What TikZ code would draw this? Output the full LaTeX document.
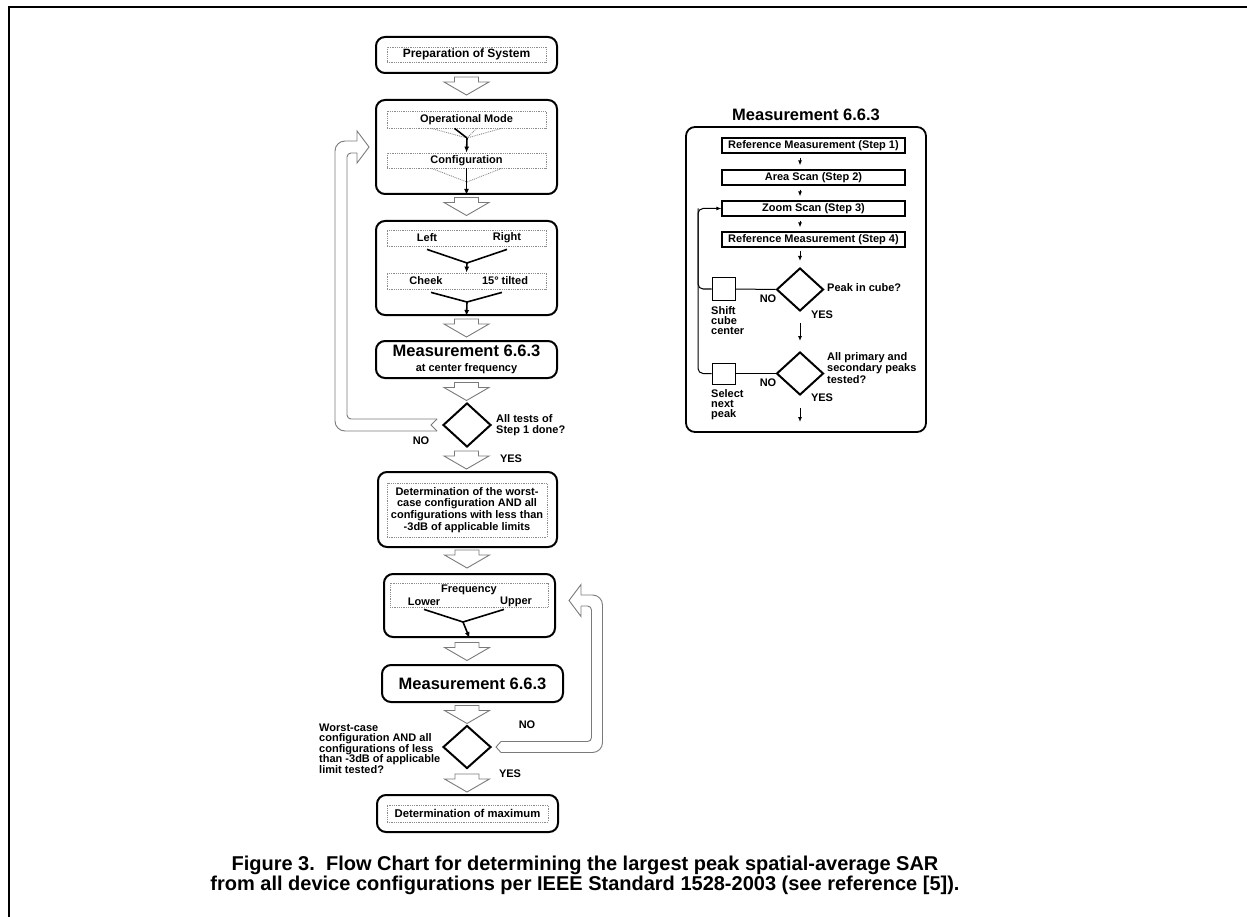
\documentclass[tikz,border=0pt]{standalone}
\usepackage{fontspec}
\setmainfont{Liberation Sans}
\usetikzlibrary{arrows.meta,shapes.geometric,calc}
\definecolor{sgray}{HTML}{7A7A7A}
\definecolor{sdot}{HTML}{8C8C8C}

\begin{document}
\begin{tikzpicture}[x=1pt,y=-1pt,every node/.style={font=\fontsize{11}{10.5}\selectfont\bfseries,inner sep=0pt},rbox/.style={draw,line width=2pt,rounded corners=9pt},dbox/.style={draw=sdot,densely dotted,line width=.8pt},sbox/.style={draw,line width=1.2pt,minimum width=183,minimum height=15},dia/.style={draw,diamond,line width=2pt,minimum width=48,minimum height=44},lnk/.style={line width=1.6pt},fan/.style={sdot,densely dotted,line width=.9pt},arr/.style={-{Latex[length=6pt,width=5pt]},line width=1.6pt},tarr/.style={-{Latex[length=5pt,width=4pt]},line width=1pt},loop/.style={sgray,line width=.9pt},big/.style={font=\fontsize{16.5}{16.5}\selectfont\bfseries},hollow/.pic={\draw[sgray,line width=.9pt,fill=white] (-12,-9)--(12,-9)--(12,-4)--(22.5,-4)--(0,9)--(-22.5,-4)--(-12,-4)--cycle;}]
\useasboundingbox (0,0) rectangle (1247,917);
\draw[line width=2.5pt] (9,917) -- (9,7) -- (1247,7);

\node[dbox,minimum width=159,minimum height=15,font=\fontsize{12}{12}\selectfont\bfseries] (prepT) at (466.5,54.5) {Preparation of System};
\node[rbox,minimum width=181,minimum height=36] (prep) at (466.5,55) {};
\pic at (466.5,86) {hollow};

\node[rbox,minimum width=181,minimum height=94] (mode) at (466.5,147) {};
\node[dbox,minimum width=159,minimum height=17] (modeT) at (466.5,119.5) {Operational Mode};
\node[dbox,minimum width=159,minimum height=15] (confT) at (466.5,160.5) {Configuration};
\coordinate (mj) at (467,138);
\coordinate (cj) at (467,182);
\draw[fan] ($(modeT.south)+(-35,0)$) -- (mj) -- ($(modeT.south)+(35,0)$) ($(modeT.south)+(10,0)$) -- (mj);
\draw[lnk] ($(modeT.south)+(-12,0)$) -- (mj);
\draw[arr] (mj) -- (confT.north);
\draw[fan] ($(confT.south)+(-35,0)$) -- (cj) -- ($(confT.south)+(35,0)$);
\draw[arr] (confT.south) -- (mode.south);
\pic at (466.5,206.5) {hollow};

\node[rbox,minimum width=181,minimum height=94] (pos) at (466.5,268) {};
\node[dbox,minimum width=159,minimum height=16] (sideT) at (466.5,238) {};
\node (tLeft) at (427,238) {Left};
\node (tRight) at (507,238) {Right};
\node[dbox,minimum width=159,minimum height=16] (tiltT) at (466.5,281) {};
\node (tCheek) at (426,281) {Cheek};
\node (tTilt) at (505,281) {15° tilted};
\coordinate (sj) at (467,263);
\coordinate (tj) at (467,302);
\draw[lnk] ([yshift=-3pt]sideT.south -| tLeft) -- (sj) -- ([yshift=-3pt]sideT.south -| tRight);
\draw[arr] (sj) -- (tiltT.north);
\draw[lnk] ([xshift=5pt,yshift=-3pt]tiltT.south -| tCheek) -- (tj) -- ([xshift=-3pt,yshift=-3pt]tiltT.south -| tTilt);
\draw[arr] (tj) -- (pos.south);
\pic at (466.5,328) {hollow};

\node[rbox,minimum width=181,minimum height=37,align=center] (meas) at (466.5,359.5) {{\fontsize{16.5}{16.5}\selectfont Measurement 6.6.3}\\[4pt]at center frequency};
\pic at (466.5,391.5) {hollow};
\node[dia] (chk1) at (467,425) {};
\node[anchor=west,align=left] (q1) at (496,425) {All tests of\\Step 1 done?};
\node (no1) at (421,441) {NO};
\node (yes1) at (511,459) {YES};
\pic at (466.5,460) {hollow};

\node[rbox,minimum width=179,minimum height=75] (worst) at (467.5,509.5) {};
\node[dbox,minimum width=160,minimum height=54,align=center,font=\fontsize{11}{11.7}\selectfont\bfseries] (worstT) at (467,510) {Determination of the worst-\\case configuration AND all\\configurations with less than\\-3dB of applicable limits};
\pic at (467,559) {hollow};

\node[rbox,minimum width=171,minimum height=63] (freq) at (469.5,605.5) {};
\node[dbox,minimum width=158,minimum height=24] (freqT) at (469,595) {};
\node (tFreq) at (469,590) {Frequency};
\node (tLow) at (424,602) {Lower};
\node (tUp) at (516,602) {Upper};
\coordinate (fj) at (463,622);
\draw[lnk] ([yshift=-2pt]freqT.south -| tLow) -- (fj) -- ([xshift=-12pt,yshift=-2pt]freqT.south -| tUp);
\draw[arr] (fj) -- (freq.south);
\pic at (467,651.5) {hollow};

\node[rbox,big,minimum width=181,minimum height=37] (meas2) at (472.5,683.5) {Measurement 6.6.3};
\pic at (467,714.5) {hollow};
\node[dia,minimum height=43] (chk2) at (467,747) {};
\node[anchor=west,align=left] (q2) at (319,748.5) {Worst-case\\configuration AND all\\configurations of less\\than -3dB of applicable\\limit tested?};
\node (no2) at (527,725) {NO};
\node (yes2) at (510,774) {YES};
\pic at (467,783) {hollow};

\node[rbox,minimum width=181,minimum height=37] (maxb) at (467.5,813.5) {};
\node[dbox,minimum width=161,minimum height=17,font=\fontsize{11.3}{11.3}\selectfont\bfseries] (maxT) at (467.5,813.5) {Determination of maximum};

\coordinate (lt) at ([xshift=-5pt]chk1.west);
\coordinate (lh) at ([xshift=-6pt]mode.west);
\coordinate (lx) at (341,0);
\draw[loop,rounded corners=4pt] ($(lt)+(0,-6)$) -- ($(lt -| lx)+(6,-6)$) -- ($(lh -| lx)+(6,6)$) -- ($(lh)+(-12,6)$);
\draw[loop,rounded corners=10pt] ($(lh)+(-12,-6)$) -- ($(lh -| lx)+(-6,-6)$) -- ($(lt -| lx)+(-6,6)$) -- ($(lt)+(0,6)$);
\draw[loop] ($(lh)+(-12,6)$) -- ($(lh)+(-12,16)$) -- (lh) -- ($(lh)+(-12,-16)$) -- ($(lh)+(-12,-6)$);
\draw[loop] ($(lt)+(0,-6)$) -- ($(lt)+(-6,0)$) -- ($(lt)+(0,6)$);

\coordinate (rt) at ([xshift=9pt]chk2.east);
\coordinate (rh) at ([xshift=13pt,yshift=5pt]freq.east);
\coordinate (rx) at (597,0);
\draw[loop,rounded corners=4pt] ($(rt)+(0,-5.5)$) -- ($(rt -| rx)+(-5.5,-5.5)$) -- ($(rh -| rx)+(-5.5,5.5)$) -- ($(rh)+(12,5.5)$);
\draw[loop,rounded corners=10pt] ($(rh)+(12,-5.5)$) -- ($(rh -| rx)+(5.5,-5.5)$) -- ($(rt -| rx)+(5.5,5.5)$) -- ($(rt)+(0,5.5)$);
\draw[loop] ($(rh)+(12,5.5)$) -- ($(rh)+(12,16)$) -- (rh) -- ($(rh)+(12,-16)$) -- ($(rh)+(12,-5.5)$);
\draw[loop] ($(rt)+(0,-5.5)$) -- ($(rt)+(-5,0)$) -- ($(rt)+(0,5.5)$);

\node[big] (rtitle) at (806,115) {Measurement 6.6.3};
\node[rbox,line width=1.8pt,minimum width=240,minimum height=305] (panel) at (806,279.5) {};
\node[sbox] (s1) at (813.5,145.5) {Reference Measurement (Step 1)};
\node[sbox] (s2) at (813.5,177.5) {Area Scan (Step 2)};
\node[sbox] (s3) at (813.5,208.5) {Zoom Scan (Step 3)};
\node[sbox] (s4) at (813.5,239.5) {Reference Measurement (Step 4)};
\node[dia,minimum width=47,minimum height=43] (rd1) at (800,289.5) {};
\node[dia,minimum width=47,minimum height=43] (rd2) at (800,373.5) {};
\draw[tarr,shorten <=4pt,shorten >=4pt] (s1.south -| rd1) -- (s2.north -| rd1);
\draw[tarr,shorten <=4pt,shorten >=4pt] (s2.south -| rd1) -- (s3.north -| rd1);
\draw[tarr,shorten <=4pt,shorten >=4pt] (s3.south -| rd1) -- (s4.north -| rd1);
\draw[tarr,shorten <=3pt,shorten >=6pt] (s4.south -| rd1) -- (rd1.north);
\draw[tarr,shorten <=11pt,shorten >=10pt] (rd1.south) -- (rd2.north);
\coordinate (rend) at (800,422);
\draw[tarr,shorten <=12pt] (rd2.south) -- (rend);
\node[draw,line width=1pt,minimum width=23,minimum height=22] (sq1) at (723.5,289) {};
\node[draw,line width=1pt,minimum width=23,minimum height=21] (sq2) at (723.5,373.5) {};
\draw[line width=1pt] (sq1.east) -- (rd1.west);
\draw[line width=1pt] (sq2.east) -- (rd2.west);
\coordinate (fb) at (698,208.5);
\draw[tarr,rounded corners=5pt] (sq2.west) -| (fb) -- (s3.west);
\draw[line width=1pt,rounded corners=5pt] (sq1.west) -| (fb);
\node[anchor=north west,align=left,font=\fontsize{11}{10}\selectfont\bfseries] (shiftL) at (711,306) {Shift\\cube\\center};
\node[anchor=north west,align=left,font=\fontsize{11}{10}\selectfont\bfseries] (selL) at (711,389) {Select\\next\\peak};
\node[anchor=west] (peakQ) at (827,288) {Peak in cube?};
\node[anchor=west,align=left,font=\fontsize{11}{10}\selectfont\bfseries] (allQ) at (827,368) {All primary and\\secondary peaks\\tested?};
\node (no3) at (768,299) {NO};
\node (yes3) at (822,315) {YES};
\node (no4) at (768,383) {NO};
\node (yes4) at (822,398) {YES};

\node[align=center,font=\fontsize{20}{20.5}\selectfont\bfseries] (cap) at (585,875.5) {Figure 3.\ \ Flow Chart for determining the largest peak spatial-average SAR\\from all device configurations per IEEE Standard 1528-2003 (see reference [5]).};
\end{tikzpicture}
\end{document}
